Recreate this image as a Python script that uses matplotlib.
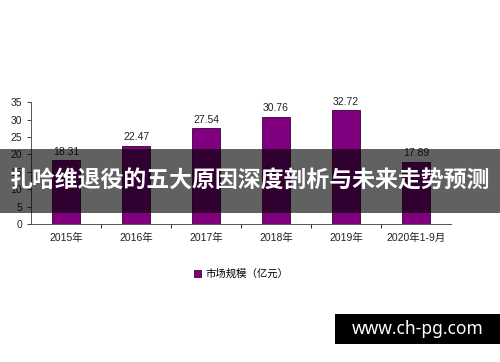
import matplotlib.pyplot as plt
from matplotlib.patches import Rectangle

plt.rcParams['font.family'] = ['Liberation Sans', 'Noto Sans CJK SC', 'DejaVu Sans']

# 数据
years = ['2015年', '2016年', '2017年', '2018年', '2019年', '2020年1-9月']
market_size = [18.31, 22.47, 27.54, 30.76, 32.72, 17.89]
y_ticks = [0, 5, 10, 15, 20, 25, 30, 35]
legend_label = '市场规模（亿元）'
title_text = '扎哈维退役的五大原因深度剖析与未来走势预测'
watermark = 'www.ch-pg.com'

fig = plt.figure(figsize=(5, 3.62), dpi=100)
ax = fig.add_axes([0.062, 0.381, 0.84, 0.337])

x = list(range(len(years)))
bars = ax.bar(x, market_size, width=0.4, color='#800080', edgecolor='#3a003a',
              linewidth=0.6, label=legend_label, zorder=2)
for xi, v in zip(x, market_size):
    ax.text(xi, v + 1.0, f'{v:.2f}', ha='center', va='bottom', fontsize=7.5, color='#222222')

ax.set_xlim(-0.5, len(years) - 0.5)
ax.set_ylim(0, 35)
ax.set_yticks(y_ticks)
ax.set_xticks(x)
ax.set_xticklabels(years, fontsize=7.5)
ax.tick_params(axis='y', labelsize=7.5, length=3, width=0.6, colors='#222222')
ax.tick_params(axis='x', length=0, pad=6, colors='#222222')
# 分类之间的小刻度
ax.set_xticks([i + 0.5 for i in x[:-1]], minor=True)
ax.tick_params(axis='x', which='minor', length=3, width=0.6, direction='out')
for side in ['top', 'right']:
    ax.spines[side].set_visible(False)
for side in ['left', 'bottom']:
    ax.spines[side].set_linewidth(0.7)
    ax.spines[side].set_color('#555555')

ax.legend(loc='upper center', bbox_to_anchor=(0.5, -0.29), frameon=False, fontsize=7.5,
          handlelength=0.7, handleheight=0.7, handletextpad=0.4)

# 标题遮罩条
fig.patches.append(Rectangle((0, 0.412), 1, 0.176, transform=fig.transFigure,
                             facecolor='black', alpha=0.62, zorder=5))
fig.text(0.5, 0.5, title_text, ha='center', va='center', fontsize=16.5,
         fontweight='bold', color='white', family=['Noto Sans CJK SC', 'DejaVu Sans'], zorder=6)

# 水印
fig.patches.append(Rectangle((0.67, 0.05), 0.33, 0.083, transform=fig.transFigure,
                             facecolor='black', zorder=5))
fig.text(0.835, 0.0915, watermark, ha='center', va='center', fontsize=12.5,
         fontweight='bold', color='white', family=['Noto Sans', 'DejaVu Sans'], zorder=6)

fig.savefig('out.png', dpi=100)
